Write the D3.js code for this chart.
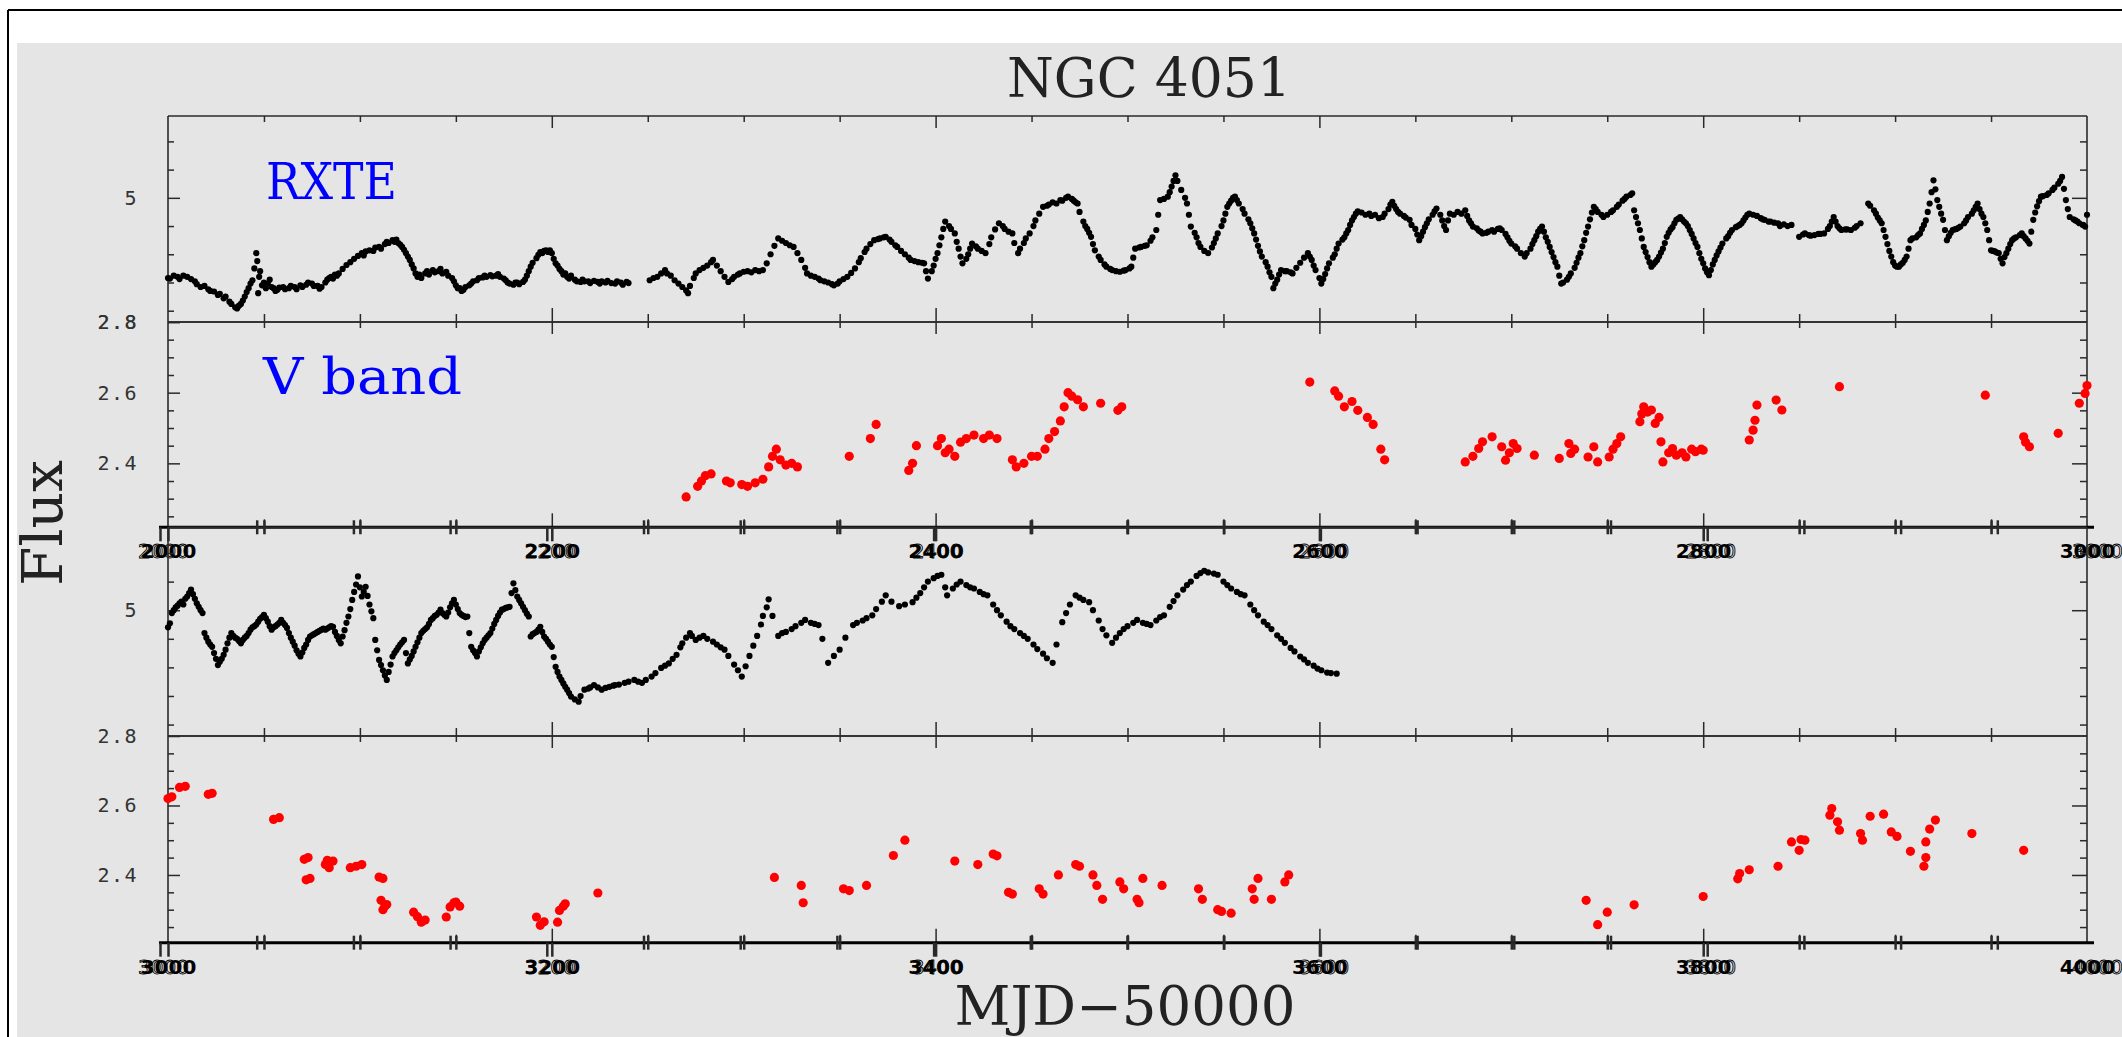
<!DOCTYPE html>
<html>
<head>
<meta charset="utf-8">
<script src="https://cdn.jsdelivr.net/npm/d3@7"></script>
<style>
  body { margin: 0; background: #fff; }
</style>
</head>
<body>
<script>
// RXTE X-ray light curve, [MJD-50000, flux]
var rxte = [
  [2000,3.58],[2001,3.57],[2003,3.62],[2005,3.60],[2006,3.56],[2008,3.62],[2010,3.60],[2012,3.56],[2014,3.52],[2015,3.47],
  [2017,3.42],[2019,3.44],[2021,3.38],[2022,3.35],[2024,3.34],[2026,3.28],[2027,3.30],[2029,3.22],[2030,3.25],[2032,3.16],
  [2033,3.12],[2035,3.06],[2036,3.04],[2037,3.09],[2038,3.12],[2039,3.18],[2040,3.25],[2041,3.33],[2042,3.40],[2043,3.48],
  [2044,3.54],[2045,3.75],[2046,4.02],[2046.5,3.88],[2047,3.31],[2047.5,3.60],[2048,3.70],[2049,3.45],[2050,3.50],[2051,3.40],
  [2052,3.48],[2053,3.55],[2054,3.42],[2055,3.40],[2056,3.35],[2057,3.37],[2058,3.41],[2060,3.42],[2061,3.38],[2063,3.40],
  [2064,3.44],[2066,3.42],[2067,3.38],[2069,3.45],[2070,3.42],[2072,3.46],[2073,3.50],[2075,3.48],[2076,3.44],[2078,3.44],
  [2079,3.39],[2080,3.42],[2082,3.50],[2083,3.55],[2084,3.58],[2085,3.60],[2086,3.57],[2087,3.64],[2088,3.62],[2089,3.66],
  [2091,3.74],[2093,3.81],[2095,3.86],[2097,3.92],[2099,3.97],[2101,4.02],[2102,3.98],[2103,4.05],[2105,4.07],[2107,4.06],
  [2108,4.12],[2110,4.13],[2111,4.10],[2113,4.18],[2114,4.22],[2115,4.20],[2117,4.25],[2118,4.22],[2119,4.26],[2120,4.20],
  [2121,4.17],[2122,4.13],[2123,4.08],[2124,4.02],[2125,3.96],[2126,3.90],[2127,3.82],[2128,3.75],[2129,3.66],[2130,3.60],
  [2131,3.64],[2132,3.58],[2134,3.66],[2135,3.70],[2136,3.64],[2138,3.72],[2139,3.68],[2141,3.70],[2142,3.74],[2143,3.66],
  [2145,3.69],[2146,3.62],[2148,3.58],[2149,3.52],[2150,3.45],[2151,3.40],[2152,3.40],[2153,3.35],[2154,3.37],[2155,3.42],
  [2157,3.45],[2158,3.48],[2159,3.52],[2161,3.54],[2162,3.58],[2164,3.59],[2165,3.62],[2166,3.60],[2168,3.63],[2169,3.61],
  [2171,3.62],[2172,3.65],[2173,3.60],[2175,3.57],[2176,3.54],[2177,3.50],[2178,3.48],[2180,3.46],[2181,3.50],[2182,3.50],
  [2183,3.47],[2185,3.51],[2186,3.55],[2187,3.62],[2188,3.70],[2189,3.78],[2190,3.85],[2192,3.93],[2193,3.99],[2194,4.04],
  [2195,4.02],[2196,4.06],[2197,4.07],[2198,4.04],[2199,4.07],[2200,4.02],[2201,3.92],[2202,3.84],[2203,3.80],[2204,3.74],
  [2205,3.70],[2206,3.64],[2207,3.66],[2208,3.60],[2209,3.57],[2210,3.62],[2212,3.55],[2213,3.52],[2215,3.51],[2216,3.55],
  [2217,3.52],[2219,3.52],[2220,3.49],[2222,3.53],[2224,3.51],[2225,3.48],[2226,3.52],[2228,3.50],[2229,3.53],[2231,3.49],
  [2233,3.48],[2234,3.52],[2236,3.50],[2237,3.46],[2239,3.51],[2240,3.49],
  [2251,3.54],[2253,3.58],[2255,3.60],[2257,3.66],[2259,3.72],[2260,3.66],[2262,3.62],[2264,3.54],[2266,3.48],[2268,3.42],
  [2270,3.36],[2271,3.31],[2272,3.44],[2274,3.58],[2275,3.66],[2277,3.72],[2279,3.76],[2281,3.80],[2283,3.86],[2284,3.90],
  [2286,3.80],[2288,3.70],[2290,3.60],[2292,3.51],[2294,3.56],[2295,3.60],[2297,3.64],[2298,3.66],[2300,3.69],[2302,3.70],
  [2304,3.68],[2306,3.72],[2308,3.70],[2310,3.72],[2312,3.84],[2314,4.00],[2316,4.15],[2318,4.28],[2320,4.24],[2322,4.20],
  [2324,4.16],[2326,4.13],[2328,4.02],[2330,3.90],[2332,3.76],[2333,3.66],[2335,3.62],[2337,3.60],[2339,3.57],[2340,3.54],
  [2342,3.52],[2344,3.50],[2346,3.47],[2347,3.45],[2349,3.48],[2350,3.52],[2352,3.56],[2354,3.60],[2356,3.67],[2358,3.75],
  [2360,3.86],[2361,3.93],[2363,4.04],[2364,4.10],[2366,4.18],[2368,4.25],[2370,4.27],[2371,4.28],[2373,4.30],[2374,4.31],
  [2376,4.26],[2377,4.22],[2379,4.16],[2380,4.13],[2382,4.06],[2384,4.00],[2386,3.94],[2387,3.90],[2389,3.88],[2391,3.86],
  [2393,3.85],[2394,3.84],[2395,3.70],[2396,3.57],[2398,3.70],[2399,3.80],[2400,3.92],[2401,4.02],[2402,4.16],[2403,4.30],
  [2404,4.45],[2405,4.58],[2407,4.50],[2408,4.45],[2410,4.37],[2411,4.22],[2412,4.10],[2413,3.96],[2414,3.84],[2416,3.92],
  [2417,4.00],[2418,4.10],[2419,4.19],[2421,4.14],[2422,4.10],[2424,4.06],[2426,4.02],[2428,4.18],[2429,4.30],[2431,4.44],
  [2433,4.55],[2435,4.50],[2436,4.45],[2438,4.40],[2440,4.37],[2441,4.20],[2443,4.02],[2444,4.10],[2446,4.20],[2447,4.28],
  [2449,4.37],[2451,4.50],[2452,4.60],[2454,4.72],[2456,4.84],[2458,4.86],[2459,4.88],[2461,4.92],[2463,4.90],[2465,4.96],
  [2466,4.95],[2468,5.00],[2469,5.02],[2471,4.98],[2472,4.95],[2473,4.92],[2474,4.90],[2475,4.75],[2477,4.58],[2478,4.50],
  [2479,4.45],[2480,4.38],[2481,4.31],[2482,4.18],[2483,4.07],[2485,3.96],[2486,3.90],[2488,3.82],[2489,3.78],[2491,3.74],
  [2492,3.72],[2494,3.70],[2496,3.69],[2498,3.71],[2499,3.72],[2501,3.75],[2502,3.78],[2503,3.94],[2504,4.10],[2506,4.12],
  [2507,4.13],[2509,4.15],[2510,4.16],[2512,4.24],[2513,4.30],[2515,4.43],[2516,4.70],[2517,4.96],[2519,4.98],[2521,5.02],
  [2522,5.10],[2523,5.20],[2524,5.30],[2525,5.40],[2526,5.30],[2528,5.14],[2530,5.00],[2531,4.90],[2532,4.70],[2533,4.49],
  [2535,4.38],[2536,4.30],[2537,4.20],[2538,4.13],[2540,4.06],[2542,4.02],[2544,4.12],[2545,4.20],[2546,4.28],[2547,4.37],
  [2549,4.50],[2550,4.60],[2551,4.72],[2552,4.84],[2553,4.90],[2554,4.95],[2555,5.00],[2556,5.02],[2557,4.96],[2558,4.90],
  [2560,4.80],[2561,4.72],[2563,4.62],[2564,4.55],[2565,4.46],[2566,4.37],[2567,4.26],[2568,4.15],[2569,4.05],[2570,3.96],
  [2572,3.86],[2573,3.78],[2574,3.68],[2575,3.60],[2576,3.40],[2577,3.48],[2578,3.55],[2579,3.64],[2580,3.72],[2582,3.70],
  [2583,3.70],[2585,3.68],[2586,3.66],[2588,3.76],[2590,3.85],[2592,3.94],[2594,4.02],[2595,3.96],[2596,3.90],[2597,3.80],
  [2598,3.72],[2600,3.58],[2601,3.48],[2602,3.56],[2603,3.65],[2604,3.75],[2605,3.84],[2607,3.94],[2608,4.00],[2609,4.10],
  [2610,4.19],[2612,4.26],[2613,4.30],[2614,4.37],[2615,4.43],[2616,4.52],[2617,4.60],[2618,4.66],[2619,4.72],[2620,4.76],
  [2622,4.74],[2624,4.70],[2626,4.72],[2627,4.68],[2629,4.70],[2631,4.64],[2633,4.66],[2634,4.72],[2636,4.80],[2637,4.88],
  [2638,4.93],[2639,4.86],[2640,4.80],[2641,4.75],[2642,4.72],[2644,4.68],[2645,4.65],[2647,4.61],[2648,4.52],[2650,4.45],
  [2651,4.35],[2652,4.25],[2653,4.32],[2654,4.40],[2655,4.48],[2656,4.55],[2657,4.62],[2659,4.70],[2660,4.76],[2661,4.81],
  [2663,4.70],[2664,4.60],[2665,4.50],[2666,4.43],[2667,4.60],[2668,4.72],[2670,4.70],[2672,4.75],[2674,4.72],[2676,4.78],
  [2677,4.68],[2678,4.60],[2679,4.55],[2680,4.49],[2682,4.46],[2683,4.42],[2684,4.40],[2685,4.37],[2687,4.38],[2688,4.40],
  [2690,4.43],[2691,4.40],[2693,4.45],[2694,4.46],[2695,4.43],[2697,4.36],[2698,4.30],[2699,4.24],[2700,4.19],[2702,4.14],
  [2703,4.10],[2705,4.02],[2707,3.96],[2708,4.02],[2710,4.10],[2711,4.18],[2712,4.25],[2713,4.32],[2714,4.40],[2715,4.45],
  [2716,4.49],[2717,4.40],[2718,4.30],[2719,4.22],[2720,4.13],[2721,4.04],[2722,3.95],[2723,3.86],[2724,3.78],[2725,3.62],
  [2726,3.48],[2727,3.50],[2729,3.55],[2730,3.60],[2731,3.66],[2733,3.76],[2734,3.85],[2735,3.94],[2736,4.02],[2737,4.14],
  [2738,4.25],[2739,4.38],[2740,4.49],[2741,4.62],[2742,4.74],[2743,4.84],[2744,4.80],[2745,4.75],[2747,4.70],[2748,4.66],
  [2750,4.70],[2752,4.75],[2753,4.78],[2755,4.84],[2756,4.88],[2758,4.95],[2759,4.98],[2760,5.02],[2762,5.05],[2763,5.08],
  [2764,4.78],[2765,4.66],[2766,4.55],[2767,4.43],[2768,4.28],[2769,4.13],[2770,4.04],[2771,3.95],[2772,3.86],[2773,3.78],
  [2774,3.82],[2775,3.86],[2776,3.90],[2777,3.96],[2778,4.03],[2779,4.10],[2780,4.20],[2781,4.31],[2782,4.38],[2783,4.44],
  [2784,4.48],[2785,4.55],[2786,4.61],[2787,4.63],[2788,4.66],[2789,4.62],[2790,4.58],[2791,4.55],[2792,4.50],[2793,4.43],
  [2794,4.36],[2795,4.28],[2796,4.20],[2797,4.13],[2798,4.02],[2799,3.92],[2800,3.84],[2801,3.75],[2802,3.68],[2803,3.63],
  [2804,3.72],[2805,3.82],[2806,3.90],[2807,3.98],[2808,4.05],[2809,4.12],[2810,4.19],[2812,4.28],[2813,4.32],[2814,4.38],
  [2815,4.43],[2817,4.48],[2818,4.50],[2819,4.52],[2820,4.55],[2821,4.60],[2822,4.65],[2823,4.70],[2824,4.72],[2826,4.70],
  [2828,4.68],[2830,4.64],[2831,4.62],[2832,4.61],[2834,4.58],[2835,4.58],[2837,4.56],[2839,4.55],[2840,4.50],[2842,4.53],
  [2844,4.50],[2846,4.52],
  [2850,4.31],[2852,4.35],[2853,4.37],[2855,4.34],[2856,4.33],[2858,4.34],[2860,4.36],[2861,4.36],[2863,4.37],[2865,4.45],
  [2866,4.50],[2867,4.58],[2868,4.66],[2869,4.58],[2870,4.50],[2871,4.46],[2872,4.43],[2874,4.44],[2875,4.44],[2877,4.43],
  [2879,4.47],[2880,4.50],[2882,4.55],
  [2886,4.90],[2887,4.86],[2889,4.78],[2890,4.72],[2891,4.65],[2892,4.60],[2893,4.55],[2894,4.43],[2895,4.31],[2896,4.18],
  [2897,4.06],[2898,3.96],[2899,3.86],[2900,3.80],[2901,3.78],[2902,3.78],[2903,3.82],[2904,3.85],[2905,3.90],[2906,3.96],
  [2907,4.10],[2908,4.25],[2909,4.28],[2911,4.30],[2912,4.34],[2913,4.37],[2914,4.45],[2915,4.52],[2916,4.60],[2917,4.75],
  [2918,4.90],[2919,5.10],[2920,5.31],[2921,5.15],[2922,4.96],[2923,4.84],[2924,4.72],[2925,4.61],[2926,4.43],[2927,4.25],
  [2928,4.32],[2929,4.38],[2930,4.43],[2931,4.44],[2932,4.45],[2933,4.47],[2934,4.49],[2936,4.55],[2937,4.60],[2938,4.66],
  [2940,4.72],[2941,4.78],[2942,4.84],[2943,4.90],[2944,4.80],[2945,4.72],[2946,4.66],[2947,4.55],[2948,4.43],[2949,4.25],
  [2950,4.07],[2951,4.06],[2952,4.05],[2953,4.03],[2954,4.02],[2955,3.92],[2956,3.84],[2957,3.95],[2958,4.02],[2959,4.10],
  [2960,4.18],[2961,4.25],[2962,4.28],[2963,4.30],[2965,4.34],[2966,4.37],[2967,4.32],[2968,4.28],[2969,4.24],[2970,4.19],
  [2971,4.40],[2972,4.61],[2973,4.74],[2974,4.85],[2975,4.94],[2976,5.02],[2977,5.03],[2979,5.05],[2980,5.08],[2982,5.14],
  [2983,5.18],[2985,5.25],[2986,5.30],[2987,5.37],[2988,5.16],[2989,4.96],[2990,4.80],[2991,4.66],[2993,4.62],[2994,4.60],
  [2995,4.58],[2996,4.55],[2998,4.52],[2999,4.49],
  [3000,4.70],[3001,4.77],[3002,4.95],[3003,5.00],[3004,5.05],[3005,5.08],[3006,5.12],[3007,5.15],[3008,5.10],[3009,5.20],
  [3010,5.24],[3011,5.30],[3012,5.36],[3013,5.28],[3014,5.20],[3015,5.12],[3016,5.06],[3017,5.00],[3018,4.95],[3019,4.60],
  [3020,4.52],[3021,4.45],[3022,4.40],[3023,4.36],[3024,4.25],[3025,4.15],[3026,4.04],[3027,4.10],[3028,4.15],[3029,4.22],
  [3030,4.31],[3031,4.42],[3032,4.52],[3033,4.60],[3034,4.55],[3035,4.52],[3036,4.50],[3037,4.46],[3038,4.42],[3039,4.48],
  [3040,4.52],[3041,4.55],[3042,4.60],[3043,4.66],[3044,4.70],[3045,4.72],[3046,4.75],[3047,4.80],[3048,4.85],[3049,4.88],
  [3050,4.92],[3051,4.86],[3052,4.80],[3053,4.72],[3054,4.66],[3055,4.70],[3056,4.72],[3057,4.75],[3058,4.78],[3059,4.83],
  [3060,4.78],[3061,4.74],[3062,4.69],[3063,4.60],[3064,4.52],[3065,4.45],[3066,4.38],[3067,4.30],[3068,4.24],[3069,4.19],
  [3070,4.26],[3071,4.34],[3072,4.40],[3073,4.48],[3074,4.54],[3075,4.56],[3076,4.58],[3077,4.60],[3078,4.62],[3079,4.64],
  [3080,4.66],[3081,4.68],[3082,4.66],[3083,4.68],[3084,4.70],[3085,4.72],[3086,4.71],[3087,4.62],[3088,4.55],[3089,4.48],
  [3090,4.42],[3091,4.54],[3092,4.65],[3093,4.78],[3094,4.89],[3095,5.02],[3096,5.18],[3097,5.32],[3098,5.45],[3099,5.59],
  [3100,5.40],[3101,5.24],[3102,5.32],[3103,5.41],[3104,5.25],[3105,5.10],[3106,4.98],[3107,4.86],[3108,4.48],[3109,4.30],
  [3110,4.13],[3111,4.04],[3112,3.95],[3113,3.86],[3114,3.78],[3115,3.92],[3116,4.05],[3117,4.19],[3118,4.25],[3119,4.30],
  [3120,4.35],[3121,4.40],[3122,4.44],[3123,4.48],[3124,4.25],[3125,4.07],[3126,4.14],[3127,4.20],[3128,4.28],[3129,4.36],
  [3130,4.44],[3131,4.52],[3132,4.60],[3133,4.64],[3134,4.67],[3135,4.70],[3136,4.76],[3137,4.83],[3138,4.86],[3139,4.90],
  [3140,4.92],[3141,4.96],[3142,5.01],[3143,4.95],[3144,4.92],[3145,4.89],[3146,4.96],[3147,5.05],[3148,5.12],[3149,5.18],
  [3150,5.10],[3151,5.02],[3152,4.95],[3153,4.92],[3154,4.90],[3155,4.88],[3156,4.89],[3157,4.60],[3158,4.36],[3159,4.30],
  [3160,4.25],[3161,4.19],[3162,4.28],[3163,4.35],[3164,4.42],[3165,4.48],[3166,4.52],[3167,4.56],[3168,4.60],[3169,4.68],
  [3170,4.76],[3171,4.83],[3172,4.90],[3173,4.96],[3174,5.01],[3175,5.02],[3176,5.04],[3177,5.05],[3178,5.06],[3179,5.30],
  [3180,5.47],[3181,5.35],[3182,5.24],[3183,5.18],[3184,5.12],[3185,5.06],[3186,5.00],[3187,4.94],[3188,4.89],[3189,4.54],
  [3190,4.58],[3191,4.60],[3192,4.62],[3193,4.66],[3194,4.71],[3195,4.62],[3196,4.54],[3197,4.50],[3198,4.45],[3199,4.40],
  [3200,4.36],[3201,4.18],[3202,4.01],[3203,3.92],[3204,3.84],[3205,3.78],[3206,3.72],[3207,3.66],[3208,3.61],[3209,3.55],
  [3210,3.49],[3212,3.44],[3214,3.40],[3215,3.50],[3217,3.61],[3219,3.63],[3220,3.65],[3222,3.69],[3224,3.65],[3226,3.61],
  [3228,3.64],[3230,3.66],[3232,3.68],[3233,3.69],[3235,3.70],[3238,3.73],[3240,3.75],[3243,3.78],[3245,3.75],[3247,3.73],
  [3249,3.78],[3252,3.84],[3254,3.90],[3257,3.99],[3259,4.03],[3261,4.07],[3263,4.15],[3265,4.22],[3267,4.35],[3268,4.42],
  [3270,4.52],[3272,4.60],[3273,4.55],[3275,4.48],[3277,4.52],[3279,4.55],[3281,4.50],[3284,4.45],[3286,4.40],[3288,4.35],
  [3290,4.31],[3292,4.20],[3295,4.05],[3297,3.95],[3299,3.84],[3301,4.02],[3303,4.20],[3305,4.38],[3307,4.55],[3309,4.75],
  [3310,4.90],[3312,5.05],[3313,5.19],[3315,4.90],[3318,4.55],[3320,4.60],[3322,4.62],[3325,4.67],[3327,4.72],[3330,4.78],
  [3332,4.83],[3335,4.78],[3337,4.76],[3339,4.74],[3341,4.50],[3344,4.08],[3347,4.20],[3350,4.31],[3353,4.52],[3357,4.74],
  [3359,4.78],[3362,4.82],[3364,4.86],[3367,4.91],[3369,5.02],[3372,5.15],[3374,5.26],[3377,5.15],[3381,5.07],[3384,5.10],
  [3388,5.14],[3390,5.22],[3392,5.30],[3394,5.40],[3396,5.50],[3399,5.56],[3401,5.60],[3403,5.62],[3405,5.40],[3406,5.26],
  [3409,5.38],[3411,5.45],[3413,5.50],[3416,5.44],[3418,5.40],[3420,5.38],[3423,5.32],[3425,5.28],[3427,5.26],[3430,5.10],
  [3432,5.00],[3434,4.91],[3437,4.80],[3439,4.72],[3441,4.67],[3444,4.60],[3446,4.55],[3448,4.50],[3451,4.40],[3453,4.32],
  [3456,4.24],[3458,4.16],[3461,4.08],[3463,4.40],[3466,4.79],[3468,4.95],[3470,5.10],[3473,5.26],[3475,5.22],[3477,5.18],
  [3480,5.14],[3482,5.00],[3485,4.82],[3487,4.67],[3489,4.56],[3492,4.43],[3494,4.52],[3496,4.60],[3498,4.67],[3500,4.72],
  [3503,4.78],[3505,4.83],[3508,4.78],[3510,4.76],[3512,4.74],[3515,4.82],[3517,4.88],[3519,4.91],[3522,5.06],[3524,5.16],
  [3526,5.26],[3529,5.36],[3531,5.44],[3533,5.50],[3536,5.60],[3538,5.65],[3540,5.69],[3542,5.66],[3545,5.64],[3547,5.62],
  [3550,5.50],[3552,5.44],[3554,5.38],[3557,5.32],[3559,5.28],[3561,5.26],[3564,5.10],[3566,5.00],[3568,4.91],[3571,4.80],
  [3573,4.74],[3575,4.67],[3578,4.56],[3580,4.50],[3582,4.43],[3585,4.34],[3587,4.28],[3590,4.19],[3592,4.14],[3594,4.08],
  [3597,4.03],[3599,3.98],[3601,3.95],[3604,3.91],[3606,3.90],[3609,3.89]
];

// V band optical light curve, [MJD-50000, flux]
var vband = [
  [2270,2.305],[2276,2.335],[2278,2.35],[2280,2.365],[2283,2.37],[2291,2.35],[2293,2.345],[2299,2.34],[2302,2.335],[2306,2.345],
  [2310,2.355],[2313,2.39],[2315,2.42],[2317,2.44],[2319,2.41],[2322,2.395],[2325,2.40],[2328,2.39],[2355,2.42],[2366,2.47],
  [2369,2.51],[2386,2.38],[2388,2.40],[2390,2.45],[2401,2.45],[2403,2.47],[2405,2.43],[2407,2.44],[2410,2.42],[2413,2.46],
  [2416,2.47],[2420,2.48],[2425,2.47],[2428,2.48],[2432,2.47],[2440,2.41],[2442,2.39],[2446,2.40],[2450,2.42],[2453,2.42],
  [2457,2.44],[2459,2.47],[2462,2.49],[2465,2.52],[2467,2.56],[2469,2.60],[2471,2.59],[2474,2.58],[2477,2.56],[2486,2.57],
  [2495,2.55],[2497,2.56],
  [2595,2.63],[2608,2.605],[2610,2.59],[2613,2.56],[2617,2.575],[2620,2.55],[2625,2.53],[2628,2.51],[2632,2.44],[2634,2.41],
  [2676,2.404],[2680,2.42],[2683,2.442],[2685,2.461],[2690,2.475],[2695,2.447],[2697,2.409],[2699,2.43],[2701,2.456],[2703,2.442],
  [2712,2.423],[2725,2.414],[2730,2.456],[2731,2.428],[2733,2.44],[2740,2.418],[2743,2.447],[2745,2.404],[2751,2.418],[2753,2.44],
  [2755,2.456],[2757,2.475],[2767,2.518],[2768,2.54],[2769,2.56],[2771,2.545],[2773,2.551],[2775,2.513],[2777,2.53],[2778,2.461],
  [2779,2.404],[2782,2.43],[2784,2.442],[2786,2.423],[2789,2.43],[2791,2.418],[2794,2.44],[2796,2.433],[2799,2.44],[2800,2.437],
  [2824,2.466],[2826,2.494],[2827,2.522],[2828,2.565],[2838,2.579],[2841,2.551],[2871,2.617],[2947,2.593],[2967,2.475],[2968,2.46],
  [2970,2.447],[2985,2.485],[2996,2.57],[2999,2.598],
  [3000,2.62],[3002,2.625],[3006,2.652],[3009,2.655],[3021,2.632],[3023,2.635],[3055,2.56],[3058,2.565],[3071,2.445],[3073,2.45],
  [3072,2.386],[3074,2.39],[3082,2.43],[3083,2.442],[3084,2.421],[3086,2.44],[3095,2.421],[3098,2.425],[3101,2.43],[3110,2.394],
  [3112,2.39],[3111,2.327],[3113,2.31],[3112,2.30],[3114,2.315],[3128,2.293],[3130,2.28],[3132,2.264],[3134,2.27],[3145,2.279],
  [3147,2.308],[3149,2.32],[3150,2.322],[3152,2.31],[3192,2.279],[3194,2.255],[3196,2.265],[3203,2.264],[3204,2.298],[3206,2.31],
  [3207,2.317],[3224,2.348],
  [3316,2.393],[3330,2.37],[3331,2.32],[3352,2.36],[3355,2.355],[3364,2.37],[3378,2.456],[3384,2.50],[3410,2.44],[3422,2.43],
  [3430,2.46],[3432,2.455],[3438,2.35],[3440,2.345],[3454,2.36],[3456,2.345],[3464,2.40],[3473,2.43],[3475,2.425],[3482,2.40],
  [3484,2.37],[3487,2.33],[3496,2.38],[3498,2.36],[3505,2.33],[3506,2.32],[3508,2.39],[3518,2.37],[3537,2.36],[3539,2.33],
  [3547,2.30],[3549,2.295],[3554,2.29],[3565,2.36],[3566,2.33],[3568,2.39],[3575,2.33],[3582,2.38],[3584,2.40],
  [3739,2.327],[3745,2.257],[3750,2.293],[3764,2.314],[3800,2.338],[3818,2.389],[3819,2.404],[3824,2.415],[3839,2.425],[3846,2.495],
  [3850,2.471],[3851,2.502],[3853,2.50],[3866,2.572],[3867,2.591],[3870,2.553],[3871,2.529],[3882,2.519],[3883,2.50],[3887,2.569],
  [3894,2.575],[3898,2.524],[3901,2.511],[3908,2.468],[3915,2.425],[3916,2.45],[3916,2.495],[3918,2.532],[3921,2.558],[3940,2.519],
  [3967,2.471]
];

// tick values
var xMinorStep = 50;
var rxteLabels = [2.8, 5];
var rxteMinor = [3, 3.5, 4, 4.5, 5.5, 6];
var vLabels1 = [2.8, 2.6, 2.4];
var vLabels2 = [2.6, 2.4];
var vMinor = [2.25, 2.3, 2.35, 2.45, 2.5, 2.55, 2.65, 2.7, 2.75];

var width = 2122, height = 1037;
var L = 168, R = 2087;

var svg = d3.select("body").append("svg")
    .attr("width", width)
    .attr("height", height);

// grey page and the frame lines
svg.append("rect").attr("x", 17).attr("y", 43)
    .attr("width", width - 17).attr("height", height - 43)
    .attr("fill", "#e5e5e5");
svg.append("line").attr("x1", 8).attr("y1", 10).attr("x2", width).attr("y2", 10)
    .attr("stroke", "#000").attr("stroke-width", 2);
svg.append("line").attr("x1", 8).attr("y1", 10).attr("x2", 8).attr("y2", height)
    .attr("stroke", "#000").attr("stroke-width", 2);

// four stacked panels
var panels = [
    {top: 116,   bottom: 322,   x0: 2000, dom: [2.8, 6.45],   kind: "rxte", labels: rxteLabels, minor: rxteMinor},
    {top: 322,   bottom: 527.3, x0: 2000, dom: [2.219, 2.8],  kind: "v",    labels: vLabels1,   minor: vMinor},
    {top: 527.3, bottom: 736,   x0: 3000, dom: [2.8, 6.45],   kind: "rxte", labels: rxteLabels, minor: rxteMinor},
    {top: 736,   bottom: 942.7, x0: 3000, dom: [2.205, 2.8],  kind: "v",    labels: vLabels2,   minor: vMinor}
];

function styleAxis(sel, w) {
    sel.select(".domain").remove();
    sel.selectAll("line").attr("stroke", "#2a2a2a").attr("stroke-width", w || 1.5);
}

function xTicks(x0) {
    var minor = [], major = [];
    for (var v = x0; v <= x0 + 1000; v += xMinorStep) {
        if ((v - x0) % 200 == 0) major.push(v); else minor.push(v);
    }
    return {minor: minor, major: major};
}

panels.forEach(function(p, i) {
    var x = d3.scaleLinear().domain([p.x0, p.x0 + 1000]).range([L, R]);
    var y = d3.scaleLinear().domain(p.dom).range([p.bottom, p.top]);
    var t = xTicks(p.x0);
    var g = svg.append("g");

    // left and right axes, ticks pointing inwards
    g.append("g").attr("transform", "translate(" + L + ",0)")
        .call(d3.axisLeft(y).tickValues(p.minor).tickSize(-6).tickFormat(""))
        .call(styleAxis);
    var yl = g.append("g").attr("transform", "translate(" + L + ",0)")
        .call(d3.axisLeft(y).tickValues(p.labels).tickSize(-12).tickPadding(30)
            .tickFormat(function(d) { return d == 5 ? "5" : d.toFixed(1); }))
        .call(styleAxis);
    yl.selectAll("text").attr("font-family", "DejaVu Sans Mono").attr("font-size", 20)
        .attr("fill", "#333").attr("letter-spacing", 1.5);
    g.append("g").attr("transform", "translate(" + R + ",0)")
        .call(d3.axisRight(y).tickValues(p.minor).tickSize(-7).tickFormat(""))
        .call(styleAxis);
    g.append("g").attr("transform", "translate(" + R + ",0)")
        .call(d3.axisRight(y).tickValues(p.labels.filter(function(d) { return d != 2.8; })).tickSize(-15).tickFormat(""))
        .call(styleAxis);

    // top ticks pointing down
    g.append("g").attr("transform", "translate(0," + p.top + ")")
        .call(d3.axisTop(x).tickValues(t.minor).tickSize(-6).tickFormat(""))
        .call(styleAxis);
    g.append("g").attr("transform", "translate(0," + p.top + ")")
        .call(d3.axisTop(x).tickValues(t.major.slice(1, -1)).tickSize(-12).tickFormat(""))
        .call(styleAxis);

    // bottom ticks pointing up
    g.append("g").attr("transform", "translate(0," + p.bottom + ")")
        .call(d3.axisBottom(x).tickValues(t.minor).tickSize(-8).tickFormat(""))
        .call(styleAxis);
    g.append("g").attr("transform", "translate(0," + p.bottom + ")")
        .call(d3.axisBottom(x).tickValues(t.major.slice(1, -1)).tickSize(-14).tickFormat(""))
        .call(styleAxis);

    // frame lines
    var thin = [[L, p.top, R, p.top], [L, p.top, L, p.bottom], [R, p.top, R, p.bottom]];
    if (p.kind == "rxte") thin.push([L, p.bottom, R, p.bottom]);
    thin.forEach(function(s) {
        g.append("line").attr("x1", s[0]).attr("y1", s[1]).attr("x2", s[2]).attr("y2", s[3])
            .attr("stroke", "#2a2a2a").attr("stroke-width", 1.6);
    });

    if (p.kind == "v") {
        // heavy date axis, drawn twice with a small offset as in the original plot
        var x2 = d3.scaleLinear().domain([p.x0, p.x0 + 1000]).range([160, 2094]);
        g.append("line").attr("x1", 159).attr("y1", p.bottom).attr("x2", 2094).attr("y2", p.bottom)
            .attr("stroke", "#000").attr("stroke-width", 3);
        [x, x2].forEach(function(sc) {
            g.append("g").attr("transform", "translate(0," + p.bottom + ")")
                .call(d3.axisBottom(sc).tickValues(t.minor).tickSize(7).tickFormat(""))
                .call(styleAxis, 2.5);
            g.append("g").attr("transform", "translate(0," + p.bottom + ")")
                .call(d3.axisBottom(sc).tickValues(t.major.slice(0, -1)).tickSize(14).tickFormat(""))
                .call(styleAxis, 2.5);
            g.append("g").attr("transform", "translate(0," + p.bottom + ")")
                .call(d3.axisBottom(sc).tickValues(t.minor).tickSize(-7).tickFormat(""))
                .call(styleAxis, 2.5);
        });
        // date labels: a solid set and a hollow set slightly shifted
        var lab = g.append("g").attr("transform", "translate(0," + p.bottom + ")")
            .call(d3.axisBottom(x).tickValues(t.major).tickSize(0).tickPadding(17).tickFormat(d3.format("d")));
        lab.select(".domain").remove();
        lab.selectAll("text").attr("font-family", "DejaVu Sans").attr("font-size", 20)
            .attr("font-weight", "bold").attr("fill", "#000");
        var lab2 = g.append("g").attr("transform", "translate(3," + p.bottom + ")")
            .call(d3.axisBottom(x2).tickValues(t.major).tickSize(0).tickPadding(17).tickFormat(d3.format("d")));
        lab2.select(".domain").remove();
        lab2.selectAll("text").attr("font-family", "DejaVu Sans").attr("font-size", 20)
            .attr("fill", "none").attr("stroke", "#000").attr("stroke-width", 0.9);
    }

    // data points
    var src = p.kind == "rxte" ? rxte : vband;
    var pts = src.filter(function(d) { return d[0] >= p.x0 && d[0] <= p.x0 + 1000; });
    g.selectAll("circle").data(pts).enter().append("circle")
        .attr("cx", function(d) { return x(d[0]); })
        .attr("cy", function(d) { return y(d[1]); })
        .attr("r", p.kind == "rxte" ? 3.1 : 4.6)
        .attr("fill", p.kind == "rxte" ? "#000" : "#ff0000");
});

// texts
svg.append("text").attr("x", 1149).attr("y", 97).attr("text-anchor", "middle")
    .attr("font-family", "DejaVu Serif").attr("font-size", 55).attr("fill", "#222")
    .attr("textLength", 284).attr("lengthAdjust", "spacingAndGlyphs")
    .text("NGC 4051");
svg.append("text").attr("x", 266).attr("y", 199)
    .attr("font-family", "DejaVu Serif").attr("font-size", 51).attr("fill", "#0000ff")
    .attr("textLength", 131).attr("lengthAdjust", "spacingAndGlyphs")
    .text("RXTE");
svg.append("text").attr("x", 263).attr("y", 394)
    .attr("font-family", "DejaVu Serif").attr("font-size", 51).attr("fill", "#0000ff")
    .attr("textLength", 199).attr("lengthAdjust", "spacingAndGlyphs")
    .text("V band");
svg.append("text").attr("x", 1125).attr("y", 1025).attr("text-anchor", "middle")
    .attr("font-family", "DejaVu Serif").attr("font-size", 54).attr("fill", "#222")
    .attr("textLength", 341).attr("lengthAdjust", "spacingAndGlyphs")
    .text("MJD\u221250000");
svg.append("text").attr("transform", "translate(62,523) rotate(-90)").attr("text-anchor", "middle")
    .attr("font-family", "DejaVu Serif").attr("font-size", 56).attr("fill", "#222")
    .attr("textLength", 126).attr("lengthAdjust", "spacingAndGlyphs")
    .text("Flux");
</script>
</body>
</html>
